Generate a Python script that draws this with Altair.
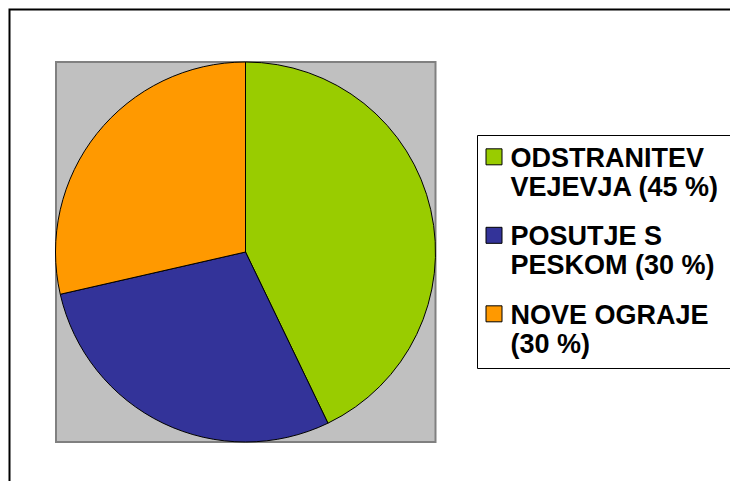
import altair as alt
import pandas as pd

# Data
categories = [
    "ODSTRANITEV\nVEJEVJA (45 %)",
    "POSUTJE S\nPESKOM (30 %)",
    "NOVE OGRAJE\n(30 %)",
]
values = [45, 30, 30]
order = [1, 2, 3]
colors = ["#99CC00", "#333399", "#FF9900"]

df = pd.DataFrame({"cat": categories, "value": values, "order": order})
one = pd.DataFrame({"k": [0]})

frame = alt.Chart(one).mark_rect(
    fillOpacity=0, stroke="#000000", strokeWidth=2
).encode(
    x=alt.value(1.5), x2=alt.value(780), y=alt.value(1.5), y2=alt.value(540)
)

plot_bg = alt.Chart(one).mark_rect(
    fill="#C0C0C0", stroke="#808080", strokeWidth=2
).encode(
    x=alt.value(48), x2=alt.value(427.5), y=alt.value(54), y2=alt.value(434)
)

# square legend swatch, centred on the first label line
swatch = "M-1,-1.21H1V0.79H-1Z"

pie = alt.Chart(df).mark_arc(radius=190, stroke="black", strokeWidth=1).encode(
    theta=alt.Theta("value:Q", stack=True),
    order=alt.Order("order:Q"),
    color=alt.Color(
        "cat:N",
        scale=alt.Scale(domain=categories, range=colors),
        legend=alt.Legend(
            title=None,
            orient="none",
            legendX=469,
            legendY=127,
            direction="vertical",
            labelExpr="split(datum.label, '\\n')",
            labelFont="Liberation Sans",
            labelFontWeight="bold",
            labelFontSize=27,
            labelColor="black",
            labelLimit=400,
            labelBaseline="middle",
            labelOffset=3,
            symbolOffset=-6.5,
            symbolType=swatch,
            symbolSize=256,
            symbolStrokeColor="black",
            symbolStrokeWidth=1,
            symbolOpacity=1,
            strokeColor="black",
            fillColor="white",
            padding=10,
            rowPadding=21.5,
            cornerRadius=0,
        ),
    ),
    x=alt.value(237.5),
    y=alt.value(244),
)

chart = alt.layer(frame, plot_bg, pie).properties(
    width=722,
    height=473,
    autosize=alt.AutoSizeParams(type="none"),
    padding=0,
    background="white",
).configure_view(stroke=None)

chart.save("out.html", embed_options={"renderer": "svg", "actions": False})
